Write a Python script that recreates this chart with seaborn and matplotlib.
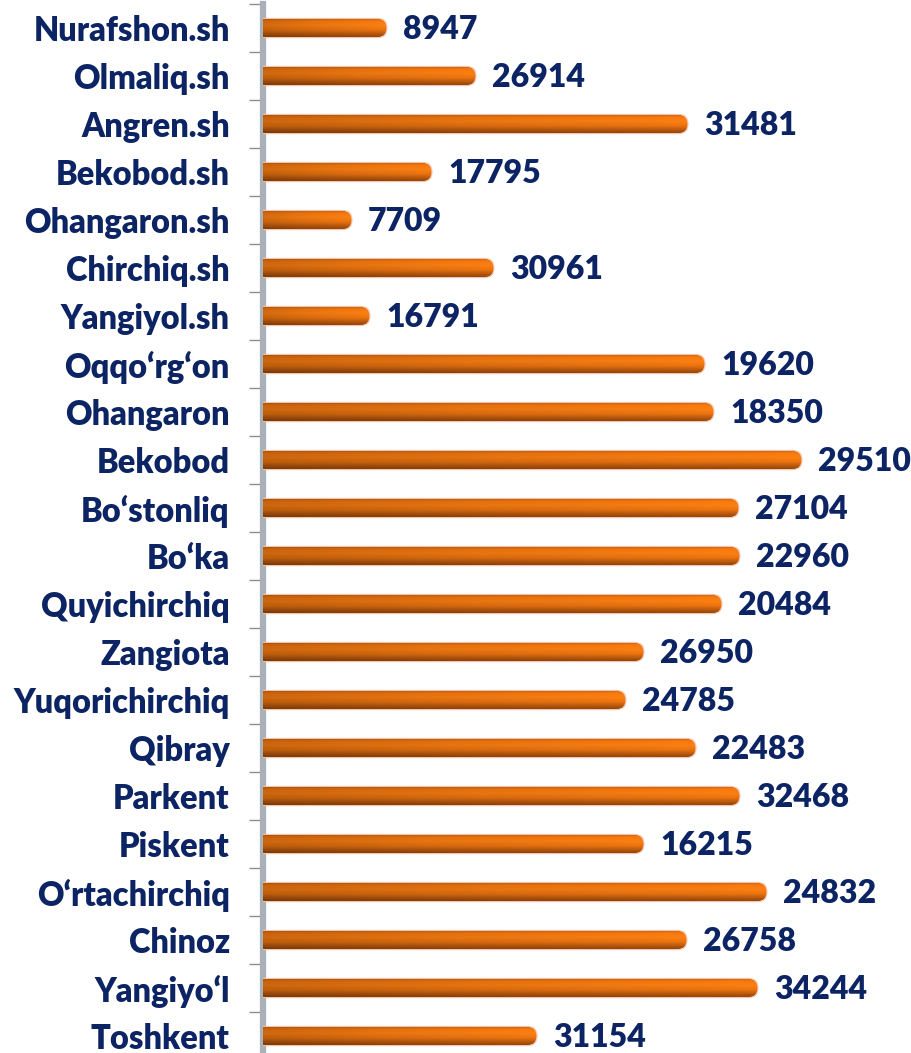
"""Horizontal cylinder-style bar chart of Tashkent region districts."""

import matplotlib

matplotlib.use("Agg")
import matplotlib.pyplot as plt  # noqa: E402
import numpy as np  # noqa: E402
import seaborn as sns  # noqa: E402
from matplotlib.patches import FancyBboxPatch  # noqa: E402

# --- data ----------------------------------------------------------------
districts = [
    "Nurafshon.sh", "Olmaliq.sh", "Angren.sh", "Bekobod.sh", "Ohangaron.sh",
    "Chirchiq.sh", "Yangiyol.sh", "Oqqo\u2018rg\u2018on", "Ohangaron", "Bekobod",
    "Bo\u2018stonliq", "Bo\u2018ka", "Quyichirchiq", "Zangiota", "Yuqorichirchiq",
    "Qibray", "Parkent", "Piskent", "O\u2018rtachirchiq", "Chinoz",
    "Yangiyo\u2018l", "Toshkent",
]
# bar lengths (estimated, chart units)
bar_len = [124, 213, 425, 169, 89, 231, 107, 442, 451, 539, 476,
           477, 459, 381, 363, 433, 477, 381, 504, 424, 495, 274]
# printed data labels
value_labels = [8947, 26914, 31481, 17795, 7709, 30961, 16791, 19620, 18350,
                29510, 27104, 22960, 20484, 26950, 24785, 22483, 32468,
                16215, 24832, 26758, 34244, 31154]

NAVY = "#0c2463"
AXIS_GRAY = "#a9b0b8"


def cylinder_gradient(ny=48, nx=256):
    """RGBA image that mimics the shaded orange cylinder bars."""
    t = np.linspace(0, 1, ny)
    mix = np.interp(t, [0, 0.12, 0.35, 0.6, 0.85, 1.0],
                    [0.55, 0.92, 1.0, 0.85, 0.45, 0.28])
    u = np.linspace(0, 1, nx)
    hfac = np.interp(u, [0, 0.5, 1.0], [0.80, 0.92, 1.0])
    bright = np.array([1.0, 0.50, 0.07])
    dark = np.array([0.40, 0.17, 0.03])
    col = dark[None, None, :] + (bright - dark)[None, None, :] * mix[:, None, None]
    col = col * hfac[None, :, None]
    img = np.ones((ny, nx, 4))
    img[..., :3] = np.clip(col, 0, 1)
    return img


def main() -> None:
    sns.set_style("white")
    plt.rcParams["font.family"] = ["Lato", "DejaVu Sans"]

    n = len(districts)
    fig = plt.figure(figsize=(9.11, 10.53), dpi=100)
    # axes: left edge at the grey axis, rows 48 px apart, last row runs off the bottom
    ax = fig.add_axes([263 / 911, -7 / 1053, 648 / 911, 1056 / 1053])

    sns.barplot(x=bar_len, y=districts, orient="h", width=0.4,
                color="#f07a12", ax=ax)
    ax.set_xlim(0, 648)
    ax.set_ylim(n - 0.5, -0.5)

    grad = cylinder_gradient()
    asp = (1 / 48) / 1.0  # y units per px / x units per px
    for i, p in enumerate(list(ax.patches)):
        x0, y0 = p.get_x(), p.get_y()
        w, h = p.get_width(), p.get_height()
        p.set_visible(False)
        shape = FancyBboxPatch(
            (x0 - 20, y0), w + 20, h,
            boxstyle=f"round,pad=0,rounding_size={h / asp / 2:.2f}",
            mutation_aspect=asp, facecolor="none", edgecolor="#f5c6b0",
            linewidth=0.8, zorder=4,
        )
        ax.add_patch(shape)
        im = ax.imshow(grad, extent=(x0 - 20, x0 + w, y0 + h, y0),
                       aspect="auto", interpolation="bicubic", zorder=3)
        im.set_clip_path(shape)
        ax.text(x0 + w + 16, y0 + h / 2 + 0.04, f"{value_labels[i]}", ha="left",
                va="center", fontsize=23, fontweight="heavy", color=NAVY,
                zorder=5)

    ax.set_xlim(0, 648)
    ax.set_ylim(n - 0.5, -0.5)

    ax.set_yticks(range(n))
    ax.set_yticklabels(districts)
    for lbl in ax.get_yticklabels():
        lbl.set_fontweight("heavy")
    ax.tick_params(axis="y", which="major", length=0, pad=24,
                   labelsize=23.5, labelcolor=NAVY)
    ax.set_yticks(np.arange(-0.5, n, 1), minor=True)
    ax.tick_params(axis="y", which="minor", left=True, length=10,
                   width=1, color="#8c8c8c")
    ax.set_xticks([])
    ax.set_xlabel("")
    ax.set_ylabel("")

    for side in ("top", "right", "bottom"):
        ax.spines[side].set_visible(False)
    ax.spines["left"].set_color(AXIS_GRAY)
    ax.spines["left"].set_linewidth(4.5)

    fig.savefig("out.png", dpi=100, facecolor="white")


if __name__ == "__main__":
    main()
